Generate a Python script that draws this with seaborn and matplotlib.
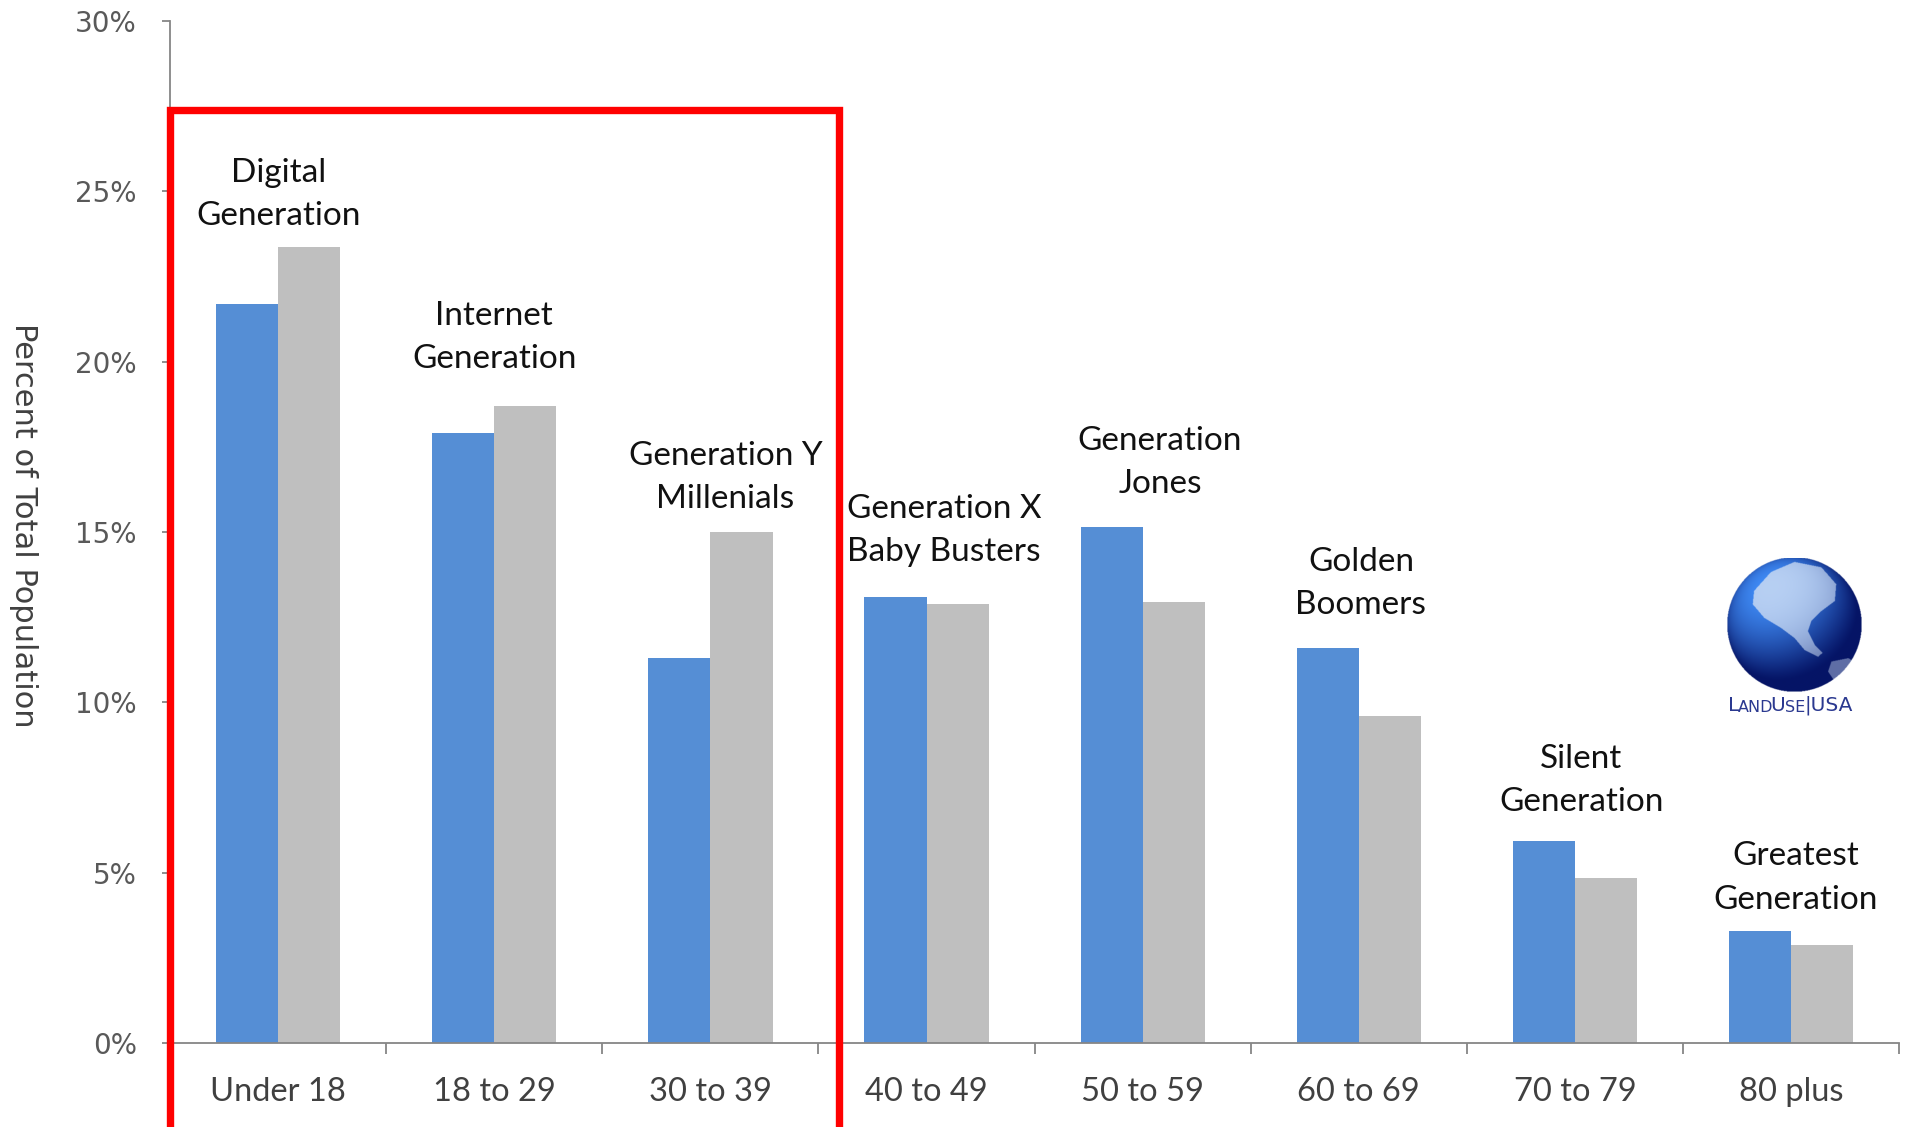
import numpy as np
import pandas as pd
import matplotlib
matplotlib.use("Agg")
import matplotlib.pyplot as plt
import seaborn as sns
from matplotlib.patches import Rectangle
from matplotlib.path import Path

# Age bands and share of total population (%) for the two series
age_groups = ["Under 18", "18 to 29", "30 to 39", "40 to 49",
              "50 to 59", "60 to 69", "70 to 79", "80 plus"]
share_blue = [21.7, 17.9, 11.3, 13.1, 15.15, 11.6, 5.95, 3.3]
share_gray = [23.35, 18.7, 15.0, 12.9, 12.95, 9.6, 4.85, 2.9]
series_names = ["Group 1", "Group 2"]

# Generation names written above each age band
generation_names = ["Digital\nGeneration", "Internet\nGeneration",
                    "Generation Y\nMillenials", "Generation X\nBaby Busters",
                    "Generation\nJones", "Golden\nBoomers",
                    "Silent\nGeneration", "Greatest\nGeneration"]
y_ticks = [0, 5, 10, 15, 20, 25, 30]
y_tick_labels = ["0%", "5%", "10%", "15%", "20%", "25%", "30%"]

# Placement of the generation names (x shift in category units, y centre in %)
name_dx = [0.0, 0.0, 0.07, 0.08, 0.08, 0.01, 0.03, 0.02]
name_y = [24.9, 20.7, 16.6, 15.05, 17.05, 13.5, 7.7, 4.85]

BLUE = "#558ED5"
GRAY = "#BFBFBF"
AXIS = "#868686"
LOGO_TEXT = "#2B3990"

df = pd.DataFrame({
    "age": age_groups * 2,
    "share": share_blue + share_gray,
    "series": [series_names[0]] * len(age_groups) + [series_names[1]] * len(age_groups),
})

sns.set_theme(style="white")
plt.rcParams["font.family"] = ["Lato", "DejaVu Sans"]

fig = plt.figure(figsize=(19.09, 11.27), dpi=100)
ax = fig.add_axes([0.0891, 0.0742, 0.9057, 0.9074])

sns.barplot(data=df, x="age", y="share", hue="series", order=age_groups,
            palette=[BLUE, GRAY], width=0.575, saturation=1, legend=False,
            linewidth=0, ax=ax)

ax.set_xlim(-0.5, len(age_groups) - 0.5)
ax.set_ylim(0, 30)

# spines
for side in ["top", "right"]:
    ax.spines[side].set_visible(False)
for side in ["left", "bottom"]:
    ax.spines[side].set_color(AXIS)
    ax.spines[side].set_linewidth(1.3)

# y axis
ax.set_yticks(y_ticks)
ax.set_yticklabels(y_tick_labels, fontfamily="DejaVu Sans", fontsize=20, color="#595959")
ax.tick_params(axis="y", which="major", direction="out", length=6, width=1.3,
               color=AXIS, pad=18, left=True)
ax.set_ylabel("Percent of Total Population", rotation=270,
              fontfamily=["Liberation Sans Narrow", "DejaVu Sans"],
              fontsize=22, color="#404040")
ax.yaxis.set_label_coords(-0.093, 0.507)

# x axis: labels at centres, tick marks at band boundaries
ax.set_xticks(range(len(age_groups)))
ax.set_xticklabels(age_groups, fontsize=23.5, color="#404040")
ax.set_xticks(np.arange(-0.5, len(age_groups)), minor=True)
ax.tick_params(axis="x", which="major", length=0, pad=24)
ax.tick_params(axis="x", which="minor", direction="out", length=8, width=1.3,
               color=AXIS, bottom=True)
ax.set_xlabel("")

# generation names
for i, name in enumerate(generation_names):
    ax.text(i + name_dx[i], name_y[i], name, ha="center", va="center",
            fontsize=24, color="#111111", linespacing=1.55)

# highlight box around the three youngest bands
ax.add_patch(Rectangle((0.0, -0.15), 0.3866, 0.913 + 0.15, transform=ax.transAxes,
                       fill=False, edgecolor="#FF0000", linewidth=5.3,
                       clip_on=False, zorder=10))

# globe logo
gax = fig.add_axes([0.9044, 0.3858, 0.0702, 0.1189])
n = 300
yy, xx = np.mgrid[1:-1:n * 1j, -1:1:n * 1j]
rr = np.sqrt(xx ** 2 + yy ** 2)
zz = np.sqrt(np.clip(1 - rr ** 2, 0, 1))
light = np.array([-0.35, 0.55, 0.75])
light = light / np.linalg.norm(light)
shade = np.clip(xx * light[0] + yy * light[1] + zz * light[2], 0, 1)
dark = np.array([0.02, 0.08, 0.40])
bright = np.array([0.25, 0.55, 0.97])
img = dark + (bright - dark) * shade[..., None] ** 1.4

north_america = Path([(-0.6, 0.5), (-0.35, 0.78), (0.0, 0.93), (0.4, 0.85),
                      (0.62, 0.6), (0.6, 0.35), (0.4, 0.2), (0.25, 0.05),
                      (0.2, -0.1), (0.3, -0.3), (0.42, -0.42), (0.35, -0.48),
                      (0.15, -0.38), (0.0, -0.2), (-0.2, -0.05), (-0.45, 0.1),
                      (-0.62, 0.3)])
south_america = Path([(0.55, -0.55), (0.8, -0.5), (0.97, -0.6), (0.85, -0.85),
                      (0.6, -0.85), (0.5, -0.7)])
pts = np.column_stack([xx.ravel(), yy.ravel()])
land = (north_america.contains_points(pts) | south_america.contains_points(pts)).reshape(xx.shape)
land_col = np.array([0.80, 0.86, 0.95])
land_mix = 0.45 + 0.4 * shade[..., None]
img = np.where(land[..., None], img * (1 - land_mix) + land_col * land_mix, img)
alpha = (rr <= 1).astype(float)
gax.imshow(np.dstack([img, alpha]), extent=(-1, 1, -1, 1), interpolation="bilinear")
gax.set_aspect("equal")
gax.axis("off")

# logo caption in small caps, each piece butted against the previous one
pieces = [("L", 14.5), ("AND", 11.5), ("U", 14.5), ("SE", 11.5), ("|USA", 14.5)]
kern_px = [-1.0, -3.0, -1.0, 0.0, 0.0]
renderer = fig.canvas.get_renderer()
x_px = 1728.0
base_frac = 0.3656
for (txt, size), kern in zip(pieces, kern_px):
    t = fig.text(x_px / 1909, base_frac, txt, fontsize=size, color=LOGO_TEXT,
                 fontfamily="DejaVu Sans", ha="left", va="bottom")
    bb = t.get_window_extent(renderer)
    x_px += bb.width + kern

fig.savefig("out.png", dpi=100)
